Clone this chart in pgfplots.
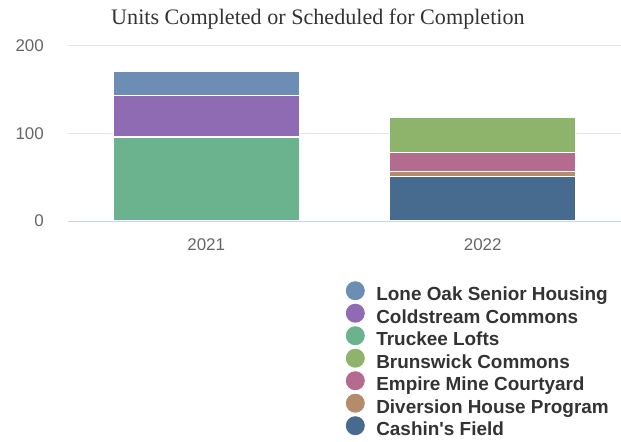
\documentclass[border=0pt]{standalone}
\usepackage{fontspec}
\setmainfont{Liberation Serif}
\newfontfamily\arialfont{Liberation Sans}
\usepackage{pgfplots}
\pgfplotsset{compat=1.18}
\definecolor{loneoak}{HTML}{6C8EB4}
\definecolor{coldstream}{HTML}{8F6BB3}
\definecolor{truckee}{HTML}{6BB38F}
\definecolor{brunswick}{HTML}{8EB36B}
\definecolor{empire}{HTML}{B36B8E}
\definecolor{diversion}{HTML}{B38D6B}
\definecolor{cashin}{HTML}{476B8E}
\definecolor{gridgray}{HTML}{E6E6E6}
\definecolor{axisblue}{HTML}{CCD6EB}
\definecolor{ticktext}{HTML}{666666}
\definecolor{darktext}{HTML}{333333}
\begin{document}
\begin{tikzpicture}
\useasboundingbox (0,0) rectangle (621bp,442bp);
\begin{axis}[
  at={(68bp,221bp)}, anchor=south west,
  scale only axis, width=553bp, height=175bp,
  xmin=-0.5, xmax=1.5, ymin=0, ymax=200,
  ybar stacked, bar width=186bp,
  xtick={0,1}, xticklabels={2021,2022},
  ytick={0,100,200},
  axis x line*=bottom, axis y line*=left,
  x axis line style={draw=axisblue, line width=1bp},
  y axis line style={draw=none},
  major tick length=0pt,
  ymajorgrids, grid style={draw=gridgray, line width=1bp},
  tick label style={font=\arialfont\fontsize{17}{17}\selectfont, text=ticktext},
  /pgf/number format/assume math mode=true,
  yticklabel style={anchor=east, inner sep=0pt, xshift=-24bp},
  xticklabel style={anchor=north, inner sep=0pt, yshift=-17bp},
  title={Units Completed or Scheduled for Completion},
  title style={at={(0.452,1.12)}, anchor=center, font=\fontsize{22.2}{22.2}\selectfont, text=darktext},
  legend image code/.code={\path[draw=none, fill=none] (-9.5bp,-3bp) rectangle (21bp,13bp); \fill[#1, draw=none] (0bp,5bp) circle (9.5bp);},
  legend cell align=left,
  legend style={at={(0.502,-0.343)}, anchor=north west, draw=none, fill=none,
    font=\arialfont\bfseries\fontsize{19}{19}\selectfont, text=darktext,
    row sep=0bp, inner sep=0pt,
    nodes={inner sep=0bp, text height=13bp, text depth=3bp}},
]
\addplot[draw=white, line width=1.2bp, fill=truckee, forget plot] coordinates {(0,96) (1,0)};
\addplot[draw=white, line width=1.2bp, fill=cashin, forget plot] coordinates {(0,0) (1,51)};
\addplot[draw=white, line width=1.2bp, fill=coldstream, forget plot] coordinates {(0,47) (1,0)};
\addplot[draw=white, line width=1.2bp, fill=diversion, forget plot] coordinates {(0,0) (1,6)};
\addplot[draw=white, line width=1.2bp, fill=loneoak, forget plot] coordinates {(0,28) (1,0)};
\addplot[draw=white, line width=1.2bp, fill=empire, forget plot] coordinates {(0,0) (1,21)};
\addplot[draw=white, line width=1.2bp, fill=brunswick, forget plot] coordinates {(0,0) (1,40)};
\addlegendimage{fill=loneoak}
\addlegendentry{Lone Oak Senior Housing}
\addlegendimage{fill=coldstream}
\addlegendentry{Coldstream Commons}
\addlegendimage{fill=truckee}
\addlegendentry{Truckee Lofts}
\addlegendimage{fill=brunswick}
\addlegendentry{Brunswick Commons}
\addlegendimage{fill=empire}
\addlegendentry{Empire Mine Courtyard}
\addlegendimage{fill=diversion}
\addlegendentry{Diversion House Program}
\addlegendimage{fill=cashin}
\addlegendentry{Cashin's Field}
\end{axis}
\end{tikzpicture}
\end{document}
